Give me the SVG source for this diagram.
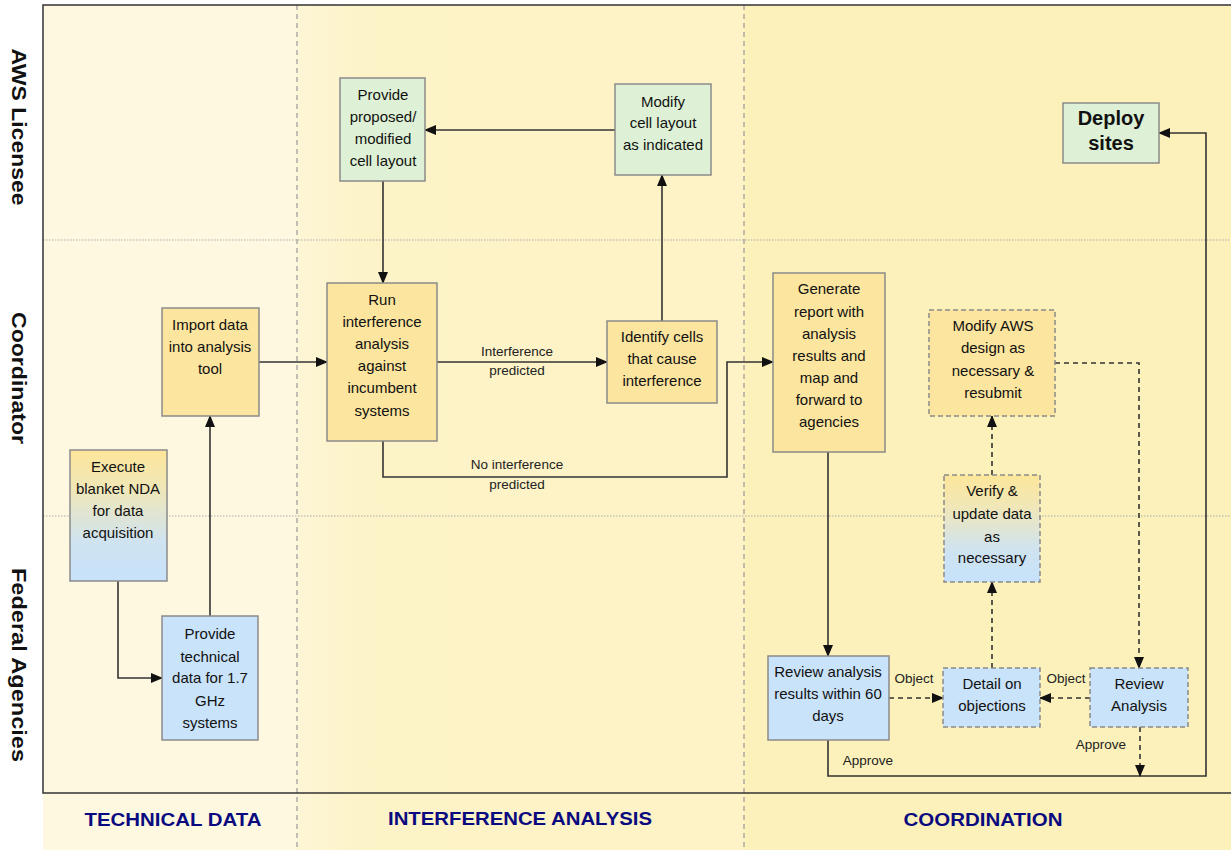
<svg xmlns="http://www.w3.org/2000/svg" width="1231" height="850" viewBox="0 0 1231 850">
<style>
.nt{font-family:"Liberation Sans",Arial,sans-serif;font-size:15px;fill:#111;text-anchor:middle}
.lbl{font-family:"Liberation Sans",Arial,sans-serif;font-size:13.5px;fill:#222;text-anchor:middle}
.lane{font-family:"Liberation Sans",Arial,sans-serif;font-size:20px;font-weight:bold;fill:#111;text-anchor:middle}
.col{font-family:"Liberation Sans",Arial,sans-serif;font-size:19px;font-weight:bold;fill:#0a0a80;text-anchor:middle}
.box{stroke:#8a8a8a;stroke-width:1.5}
.dbox{stroke:#8a8a8a;stroke-width:1.5;stroke-dasharray:5,3}
.y{fill:#FCE59E}.g{fill:#DEF1D6}.b{fill:#C9E3FA}
.c{fill:none;stroke:#333;stroke-width:1.6}
.cd{fill:none;stroke:#333;stroke-width:1.6;stroke-dasharray:5,4}
</style>
<defs>
<marker id="ah" markerUnits="userSpaceOnUse" markerWidth="12" markerHeight="12" viewBox="0 0 12 12" refX="11" refY="6" orient="auto">
<path d="M0,1 L12,6 L0,11 Z" fill="#111"/>
</marker>
<linearGradient id="yb" x1="0" y1="0" x2="0" y2="1">
<stop offset="0" stop-color="#FDE69A"/>
<stop offset="0.3" stop-color="#F0E7B8"/>
<stop offset="0.7" stop-color="#CFE3F0"/>
<stop offset="1" stop-color="#C7E2FB"/>
</linearGradient>
<linearGradient id="c2" x1="0" y1="0" x2="1" y2="0">
<stop offset="0" stop-color="#FDF6D6"/>
<stop offset="0.15" stop-color="#FDF3C8"/>
<stop offset="1" stop-color="#FDF3C6"/>
</linearGradient>
</defs>
<rect x="0" y="0" width="1231" height="850" fill="#ffffff"/>
<g id="background">
<rect x="43" y="5" width="254" height="845" fill="#FEF8E0"/>
<rect x="297" y="5" width="447" height="845" fill="url(#c2)"/>
<rect x="744" y="5" width="487" height="845" fill="#FCF1BA"/>
<line x1="43" y1="240" x2="1231" y2="240" stroke="#aaa" stroke-width="1" stroke-dasharray="1.5,1.5"/>
<line x1="43" y1="516" x2="1231" y2="516" stroke="#aaa" stroke-width="1" stroke-dasharray="1.5,1.5"/>
<line x1="297" y1="5" x2="297" y2="850" stroke="#999" stroke-width="1.2" stroke-dasharray="5,4"/>
<line x1="744" y1="5" x2="744" y2="850" stroke="#999" stroke-width="1.2" stroke-dasharray="5,4"/>
<path d="M1231,5 H43 V793 H1231" fill="none" stroke="#333" stroke-width="1.5"/>
</g>
<g id="lane-labels">
<text class="lane" transform="translate(12,127) rotate(90)" textLength="157" lengthAdjust="spacingAndGlyphs">AWS Licensee</text>
<text class="lane" transform="translate(12,378) rotate(90)" textLength="132" lengthAdjust="spacingAndGlyphs">Coordinator</text>
<text class="lane" transform="translate(12,665) rotate(90)" textLength="194" lengthAdjust="spacingAndGlyphs">Federal  Agencies</text>
</g>
<g id="column-labels">
<text class="col" x="173" y="826" textLength="177" lengthAdjust="spacingAndGlyphs">TECHNICAL DATA</text>
<text class="col" x="520" y="825" textLength="264" lengthAdjust="spacingAndGlyphs">INTERFERENCE ANALYSIS</text>
<text class="col" x="983" y="826" textLength="159" lengthAdjust="spacingAndGlyphs">COORDINATION</text>
</g>
<g id="connectors">
<path class="c" d="M615,130 H425" marker-end="url(#ah)"/>
<path class="c" d="M383,181 V283" marker-end="url(#ah)"/>
<path class="c" d="M662,321 V175" marker-end="url(#ah)"/>
<path class="c" d="M259,362 H327" marker-end="url(#ah)"/>
<path class="c" d="M437,362 H607" marker-end="url(#ah)"/>
<path class="c" d="M383,441 V477 H727 V362 H773" marker-end="url(#ah)"/>
<path class="c" d="M118,581 V678 H162" marker-end="url(#ah)"/>
<path class="c" d="M210,616 V416" marker-end="url(#ah)"/>
<path class="c" d="M828,452 V656" marker-end="url(#ah)"/>
<path class="c" d="M828,740 V776 H1206 V133 H1159" marker-end="url(#ah)"/>
<path class="cd" d="M889,698 H943" marker-end="url(#ah)"/>
<path class="cd" d="M1090,698 H1040" marker-end="url(#ah)"/>
<path class="cd" d="M992,668 V582" marker-end="url(#ah)"/>
<path class="cd" d="M992,475 V416" marker-end="url(#ah)"/>
<path class="cd" d="M1055,363 H1139 V668" marker-end="url(#ah)"/>
<path class="cd" d="M1140,727 V776" marker-end="url(#ah)"/>
<text class="lbl" x="517" y="356">Interference</text>
<text class="lbl" x="517" y="375">predicted</text>
<text class="lbl" x="517" y="469">No interference</text>
<text class="lbl" x="517" y="489">predicted</text>
<text class="lbl" x="914" y="683">Object</text>
<text class="lbl" x="1066" y="683">Object</text>
<text class="lbl" x="868" y="765">Approve</text>
<text class="lbl" x="1101" y="749">Approve</text>
</g>
<g id="n-provide-layout">
<rect class="box g" x="340" y="78" width="85" height="103"/>
<text class="nt" x="383" y="100">Provide</text>
<text class="nt" x="383" y="122">proposed/</text>
<text class="nt" x="383" y="144">modified</text>
<text class="nt" x="383" y="166">cell layout</text>
</g>
<g id="n-modify-layout">
<rect class="box g" x="615" y="84" width="96" height="91"/>
<text class="nt" x="663" y="107">Modify</text>
<text class="nt" x="663" y="128">cell layout</text>
<text class="nt" x="663" y="150">as indicated</text>
</g>
<g id="n-deploy">
<rect class="box g" x="1063" y="103" width="96" height="60"/>
<text class="nt" x="1111" y="125" style="font-size:20px;font-weight:bold">Deploy</text>
<text class="nt" x="1111" y="150" style="font-size:20px;font-weight:bold">sites</text>
</g>
<g id="n-import">
<rect class="box y" x="162" y="308" width="97" height="108"/>
<text class="nt" x="210" y="330">Import data</text>
<text class="nt" x="210" y="352">into analysis</text>
<text class="nt" x="210" y="374">tool</text>
</g>
<g id="n-run">
<rect class="box y" x="327" y="283" width="110" height="158"/>
<text class="nt" x="382" y="305">Run</text>
<text class="nt" x="382" y="327">interference</text>
<text class="nt" x="382" y="349">analysis</text>
<text class="nt" x="382" y="371">against</text>
<text class="nt" x="382" y="393">incumbent</text>
<text class="nt" x="382" y="416">systems</text>
</g>
<g id="n-identify">
<rect class="box y" x="607" y="321" width="110" height="82"/>
<text class="nt" x="662" y="342">Identify cells</text>
<text class="nt" x="662" y="364">that cause</text>
<text class="nt" x="662" y="386">interference</text>
</g>
<g id="n-nda">
<rect class="box" fill="url(#yb)" x="70" y="450" width="97" height="131"/>
<text class="nt" x="118" y="472">Execute</text>
<text class="nt" x="118" y="494">blanket NDA</text>
<text class="nt" x="118" y="516">for data</text>
<text class="nt" x="118" y="538">acquisition</text>
</g>
<g id="n-techdata">
<rect class="box b" x="162" y="616" width="96" height="124"/>
<text class="nt" x="210" y="639">Provide</text>
<text class="nt" x="210" y="662">technical</text>
<text class="nt" x="210" y="683">data for 1.7</text>
<text class="nt" x="210" y="706">GHz</text>
<text class="nt" x="210" y="728">systems</text>
</g>
<g id="n-generate">
<rect class="box y" x="773" y="273" width="112" height="179"/>
<text class="nt" x="829" y="294">Generate</text>
<text class="nt" x="829" y="317">report with</text>
<text class="nt" x="829" y="339">analysis</text>
<text class="nt" x="829" y="361">results and</text>
<text class="nt" x="829" y="383">map and</text>
<text class="nt" x="829" y="405">forward to</text>
<text class="nt" x="829" y="427">agencies</text>
</g>
<g id="n-modify-aws">
<rect class="dbox y" x="929" y="310" width="126" height="106"/>
<text class="nt" x="993" y="331">Modify AWS</text>
<text class="nt" x="993" y="353">design as</text>
<text class="nt" x="993" y="376">necessary &amp;</text>
<text class="nt" x="993" y="398">resubmit</text>
</g>
<g id="n-verify">
<rect class="dbox" fill="url(#yb)" x="944" y="475" width="96" height="107"/>
<text class="nt" x="992" y="496">Verify &amp;</text>
<text class="nt" x="992" y="519">update data</text>
<text class="nt" x="992" y="542">as</text>
<text class="nt" x="992" y="563">necessary</text>
</g>
<g id="n-review-results">
<rect class="box b" x="768" y="656" width="121" height="84"/>
<text class="nt" x="828" y="677">Review analysis</text>
<text class="nt" x="828" y="699">results within 60</text>
<text class="nt" x="828" y="721">days</text>
</g>
<g id="n-detail">
<rect class="dbox b" x="943" y="668" width="97" height="59"/>
<text class="nt" x="992" y="689">Detail on</text>
<text class="nt" x="992" y="711">objections</text>
</g>
<g id="n-review-analysis">
<rect class="dbox b" x="1090" y="668" width="98" height="59"/>
<text class="nt" x="1139" y="689">Review</text>
<text class="nt" x="1139" y="711">Analysis</text>
</g>
</svg>
